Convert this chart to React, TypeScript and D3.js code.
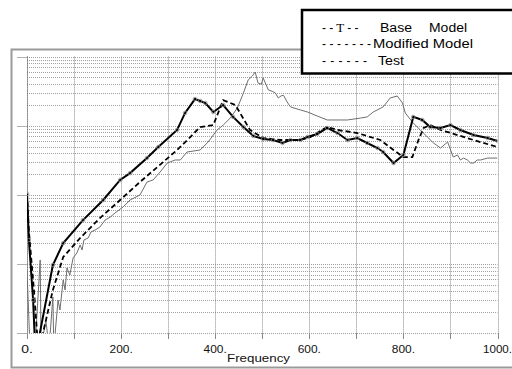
import React from "react";
import * as d3 from "d3";

const xTicks = [0, 200, 400, 600, 800, 1000];
const xTickLabels = ["0.", "200.", "400.", "600.", "800.", "1000."];
const xGrid = [0, 100, 200, 300, 400, 500, 600, 700, 800, 900, 1000];
const yDecades = [0.001, 0.01, 0.1, 1, 10];

const baseFreq = [0, 4, 13, 17, 23, 55, 77, 119, 162, 198, 219, 255, 279, 319, 336, 357, 368, 379, 396, 417, 438, 460, 481, 502, 523, 543, 560, 581, 596, 617, 638, 660, 681, 702, 723, 745, 757, 779, 800, 821, 840, 857, 879, 900, 921, 949, 979, 1000];
const baseAmp = [0.103, 0.0222, 0.003, 0.0007, 0.0007, 0.00964, 0.02, 0.0431, 0.0841, 0.164, 0.206, 0.341, 0.492, 0.867, 1.53, 2.43, 2.28, 2.13, 1.58, 1.99, 1.34, 0.957, 0.71, 0.643, 0.621, 0.562, 0.621, 0.621, 0.685, 0.759, 0.927, 0.783, 0.621, 0.664, 0.562, 0.475, 0.416, 0.288, 0.377, 1.34, 1.21, 0.957, 0.927, 1.02, 0.867, 0.733, 0.664, 0.601];

const modFreq = [0, 4, 15, 23, 30, 34, 55, 77, 113, 155, 198, 240, 277, 319, 347, 368, 396, 417, 443, 474, 502, 538, 581, 602, 638, 660, 702, 751, 779, 800, 819, 832, 843, 857, 879, 915, 949, 1000];
const modAmp = [0.103, 0.03, 0.004, 0.0007, 0.0007, 0.001, 0.0042, 0.0126, 0.0237, 0.0461, 0.0841, 0.153, 0.252, 0.445, 0.685, 0.957, 1.02, 2.35, 1.99, 0.867, 0.664, 0.621, 0.621, 0.685, 0.957, 0.867, 0.783, 0.621, 0.445, 0.352, 0.352, 0.621, 0.927, 1.02, 0.867, 0.733, 0.621, 0.492];

const testFreq = [0, 6, 17, 23, 28, 30, 40, 47, 55, 57, 66, 70, 77, 81, 85, 91, 98, 106, 113, 117, 121, 130, 136, 145, 155, 166, 177, 187, 204, 219, 240, 255, 268, 283, 298, 315, 326, 340, 368, 385, 404, 417, 432, 447, 460, 470, 479, 485, 491, 498, 502, 513, 521, 528, 534, 540, 545, 553, 560, 581, 596, 617, 638, 681, 709, 723, 736, 757, 772, 787, 798, 804, 819, 836, 851, 864, 879, 894, 906, 915, 921, 928, 936, 943, 949, 957, 964, 979, 1000];
const testAmp = [0.00817, 0.0007, 0.0006, 0.003, 0.0114, 0.0006, 0.00154, 0.0006, 0.00332, 0.0006, 0.003, 0.00215, 0.00585, 0.00419, 0.00873, 0.0069, 0.0122, 0.0144, 0.0188, 0.0159, 0.0222, 0.0237, 0.029, 0.031, 0.0342, 0.0431, 0.0477, 0.0545, 0.0665, 0.0841, 0.0993, 0.153, 0.164, 0.214, 0.288, 0.319, 0.319, 0.416, 0.445, 0.581, 0.867, 1.02, 1.29, 1.8, 2.97, 4.58, 5.24, 5.98, 4.15, 4.0, 4.9, 3.29, 3.15, 2.97, 2.52, 2.7, 2.76, 2.2, 1.87, 1.69, 1.58, 1.38, 1.21, 1.21, 1.29, 1.34, 1.58, 1.87, 2.52, 2.69, 2.13, 1.53, 1.13, 0.867, 0.685, 0.562, 0.475, 0.581, 0.352, 0.377, 0.319, 0.34, 0.319, 0.288, 0.288, 0.319, 0.319, 0.34, 0.34];

const legendLabels = ["Base", "Model", "Modified Model", "Test"];

const FONT = "'Liberation Sans', Arial, sans-serif";

export default function App() {
  const x = d3.scaleLinear().domain([0, 1000]).range([27, 497.5]);
  const y = d3.scaleLog().domain([0.001, 10]).range([333, 56.6]);
  const mk = (fs: number[], as: number[]) =>
    d3
      .line<number>()
      .x((f) => x(f))
      .y((_, i) => y(as[i]))(fs) as string;

  const yGrid: number[] = [];
  yDecades.slice(0, 4).forEach((d) => {
    for (let k = 1; k < 10; k++) yGrid.push(d * k);
  });
  yGrid.push(10);

  const [x0, x1] = x.range();
  const [yb, yt] = y.range();

  return (
    <svg
      width={512}
      height={369}
      style={{ position: "absolute", left: 0, top: 0, background: "#fff" }}
    >
      <defs>
        <clipPath id="plotClip">
          <rect x={x0} y={yt} width={x1 - x0} height={yb - yt} />
        </clipPath>
      </defs>
      <rect x={11.5} y={49.5} width={520} height={318} fill="none" stroke="#9a9a9a" strokeWidth={2} />

      {yGrid.map((v, i) => (
        <line
          key={"h" + i}
          x1={x0}
          x2={x1}
          y1={Math.round(y(v)) + 0.5}
          y2={Math.round(y(v)) + 0.5}
          stroke="#a0a0a0"
          strokeWidth={1}
          strokeDasharray="1,1"
        />
      ))}
      {xGrid.map((v, i) => (
        <line
          key={"v" + i}
          x1={Math.round(x(v)) + 0.5}
          x2={Math.round(x(v)) + 0.5}
          y1={yt}
          y2={yb}
          stroke="#8a8a8a"
          strokeWidth={1}
          strokeDasharray="1,1"
        />
      ))}
      {xGrid.map((v, i) => (
        <line
          key={"xt" + i}
          x1={Math.round(x(v)) + 0.5}
          x2={Math.round(x(v)) + 0.5}
          y1={yb}
          y2={yb + 6}
          stroke="#8a8a8a"
          strokeWidth={1}
        />
      ))}
      {yDecades.map((v, i) => (
        <line
          key={"yt" + i}
          x1={17}
          x2={x0}
          y1={Math.round(y(v)) + 0.5}
          y2={Math.round(y(v)) + 0.5}
          stroke="#b0b0b0"
          strokeWidth={1}
        />
      ))}
      <line x1={x0 + 0.5} x2={x0 + 0.5} y1={yt} y2={yb} stroke="#666" strokeWidth={1} strokeDasharray="1,1" />

      <g clipPath="url(#plotClip)">
        <path d={mk(testFreq, testAmp)} fill="none" stroke="#6e6e6e" strokeWidth={1} />
        <path d={mk(modFreq, modAmp)} fill="none" stroke="#000" strokeWidth={1.8} strokeDasharray="5,3" />
        <path d={mk(baseFreq, baseAmp)} fill="none" stroke="#000" strokeWidth={2} />
        {baseFreq.map((f, i) => (
          <circle key={"m" + i} cx={x(f)} cy={y(baseAmp[i])} r={1.8} fill="none" stroke="#888" strokeWidth={0.8} />
        ))}
      </g>

      {xTicks.map((v, i) => (
        <text
          key={"xl" + i}
          x={x(v)}
          y={353}
          textAnchor="middle"
          fontFamily={FONT}
          fontSize={10}
          fill="#111"
          textLength={xTickLabels[i].length * 5.8}
          lengthAdjust="spacingAndGlyphs"
        >
          {xTickLabels[i]}
        </text>
      ))}
      <text
        x={227}
        y={362}
        fontFamily={FONT}
        fontSize={11}
        fill="#111"
        textLength={63}
        lengthAdjust="spacingAndGlyphs"
      >
        Frequency
      </text>

      <rect x={302} y={10} width={220} height={63.5} fill="#fff" stroke="#000" strokeWidth={2.5} />
      <text x={322} y={32} fontFamily={FONT} fontSize={12} fill="#000">
        <tspan>- -</tspan>
        <tspan fontFamily="'Liberation Serif', 'Times New Roman', serif" fontSize={13} dx={3}>T</tspan>
        <tspan dx={3}>- -</tspan>
      </text>
      <text x={380} y={32} fontFamily={FONT} fontSize={12} fill="#000" textLength={32} lengthAdjust="spacingAndGlyphs">
        {legendLabels[0]}
      </text>
      <text x={429} y={32} fontFamily={FONT} fontSize={12} fill="#000" textLength={38} lengthAdjust="spacingAndGlyphs">
        {legendLabels[1]}
      </text>
      <text x={322} y={47.5} fontFamily={FONT} fontSize={12} fill="#000" textLength={49} lengthAdjust="spacing">
        - - - - - - -
      </text>
      <text x={373} y={47.5} fontFamily={FONT} fontSize={12} fill="#000" textLength={100} lengthAdjust="spacingAndGlyphs">
        {legendLabels[2]}
      </text>
      <text x={322} y={65} fontFamily={FONT} fontSize={12} fill="#000" textLength={45} lengthAdjust="spacing">
        - - - - - -
      </text>
      <text x={378} y={65} fontFamily={FONT} fontSize={12} fill="#000" textLength={26} lengthAdjust="spacingAndGlyphs">
        {legendLabels[3]}
      </text>
    </svg>
  );
}
